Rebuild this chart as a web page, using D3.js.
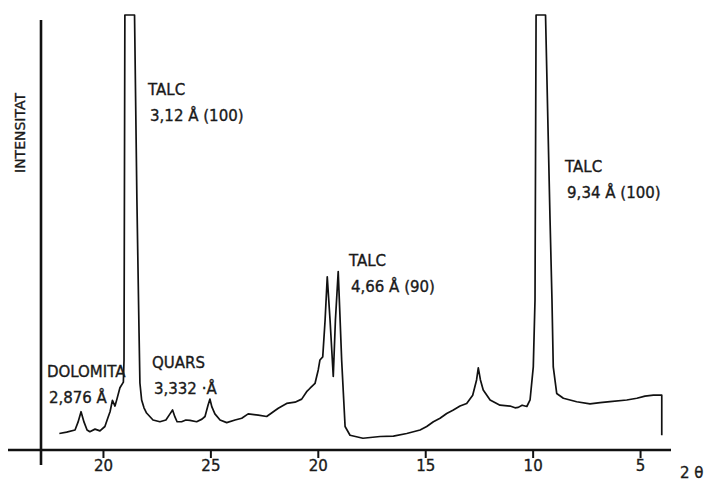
<!DOCTYPE html>
<html>
<head>
<meta charset="utf-8">
<script src="https://cdn.jsdelivr.net/npm/d3@7"></script>
<style>
  body { margin: 0; background: #fff; }
  svg { display: block; }
  text { font-family: "DejaVu Sans", sans-serif; fill: #1a1a1a; stroke: #1a1a1a; stroke-width: 0.35px; }
</style>
</head>
<body>
<div class="chart"></div>
<script>
// diffractogram trace: 2 theta (deg) and relative intensity (0-100, off-scale peaks clipped at 100)
var twoTheta = [32.03, 31.69, 31.30, 31.16, 31.02, 30.88, 30.74, 30.61, 30.37, 30.14,
	29.91, 29.77, 29.67, 29.56, 29.44, 29.35, 29.21, 29.05, 29.02, 28.98,
	28.53, 28.42, 28.32, 28.28, 28.20, 28.09, 27.97, 27.67, 27.35, 27.07,
	26.88, 26.76, 26.65, 26.55, 26.34, 26.14, 25.95, 25.64, 25.39, 25.25,
	25.11, 25.02, 24.93, 24.79, 24.55, 24.24, 23.85, 23.54, 23.24, 22.77,
	22.38, 22.07, 21.84, 21.45, 21.06, 20.75, 20.52, 20.36, 20.13, 19.98,
	19.90, 19.77, 19.66, 19.56, 19.43, 19.28, 19.18, 19.05, 18.97, 18.89,
	18.73, 18.50, 17.90, 17.10, 16.48, 15.86, 15.55, 15.24, 14.93, 14.62,
	14.31, 14.00, 13.69, 13.38, 13.07, 12.79, 12.61, 12.53, 12.43, 12.30,
	11.98, 11.52, 11.05, 10.82, 10.67, 10.49, 10.27, 10.12, 9.97, 9.89,
	9.84, 9.40, 9.19, 9.10, 9.04, 8.88, 8.57, 7.95, 7.33, 6.86,
	6.40, 5.62, 5.15, 4.77, 4.38, 3.99, 3.99];
var intensity = [3.8, 4.1, 4.6, 6.4, 8.8, 6.4, 4.6, 4.2, 4.8, 4.4,
	5.4, 7.4, 8.8, 11.4, 10.1, 11.7, 14.3, 15.6, 20.7, 100,
	100, 57.5, 26.9, 15.4, 11.5, 9.7, 8.5, 6.9, 6.5, 6.9,
	8.3, 9.2, 7.6, 6.5, 6.5, 6.9, 6.8, 6.5, 7.1, 7.7,
	10.3, 11.7, 9.9, 8.3, 6.9, 6.3, 6.9, 7.3, 8.3, 8.0,
	7.7, 8.8, 9.6, 10.7, 11.0, 11.7, 13.4, 14.2, 15.3, 18.4,
	20.7, 21.4, 29.9, 39.8, 29.9, 16.9, 29.9, 41.0, 31.0, 20.7,
	5.4, 3.4, 2.7, 3.1, 3.2, 3.8, 4.2, 4.6, 5.4, 6.5,
	7.3, 8.4, 9.2, 10.1, 10.7, 12.6, 16.1, 18.9, 16.1, 13.8,
	11.5, 10.3, 10.1, 9.7, 9.8, 10.3, 10.0, 11.5, 19.1, 34.5,
	100, 100, 52.9, 34.5, 19.1, 13.0, 11.9, 11.1, 10.6, 10.9,
	11.1, 11.5, 11.9, 12.4, 12.6, 12.6, 3.4];

var tickValues = [30, 25, 20, 15, 10, 5];
var tickLabels = ["20", "25", "20", "15", "10", "5"];

// peak labels, anchored at (2 theta, intensity)
var peakTitles = ["TALC", "TALC", "TALC", "DOLOMITA", "QUARS"];
var peakSpacings = ["3,12 Å (100)", "9,34 Å (100)", "4,66 Å (90)", "2,876 Å", "3,332 ·Å"];
var peakTheta = [27.90, 8.49, 18.55, 32.61, 27.72];
var peakLevel = [81.6, 63.9, 42.3, 16.8, 18.9];

var width = 707, height = 484;

var svg = d3.select(".chart").append("svg")
	.attr("width", width)
	.attr("height", height);

var x = d3.scaleLinear().domain([34.42, 3.56]).range([8, 671]);
var y = d3.scaleLinear().domain([0, 100]).range([450, 15]);

// axes
svg.append("line")
	.attr("x1", x.range()[0]).attr("x2", x.range()[1])
	.attr("y1", y(0)).attr("y2", y(0))
	.attr("stroke", "#111").attr("stroke-width", 2.6);

svg.append("line")
	.attr("x1", 41).attr("x2", 41)
	.attr("y1", 20).attr("y2", 465)
	.attr("stroke", "#111").attr("stroke-width", 2.6);

var xAxis = d3.axisBottom(x)
	.tickValues(tickValues)
	.tickFormat(function (d, i) { return tickLabels[i]; })
	.tickSize(8)
	.tickPadding(2);

var gx = svg.append("g")
	.attr("transform", "translate(0," + y(0) + ")")
	.call(xAxis);
gx.select(".domain").remove();
gx.selectAll(".tick line").attr("stroke", "#111").attr("stroke-width", 2);
gx.selectAll(".tick text")
	.attr("font-family", "DejaVu Sans")
	.attr("font-size", 15)
	.attr("fill", "#1a1a1a");

svg.append("text")
	.attr("x", 680).attr("y", 478)
	.attr("font-size", 15)
	.text("2 θ");

svg.append("text")
	.attr("transform", "translate(25,133) rotate(-90)")
	.attr("text-anchor", "middle")
	.attr("font-size", 14)
	.text("INTENSITAT");

// trace
var points = twoTheta.map(function (t, i) { return [t, intensity[i]]; });
var line = d3.line()
	.x(function (d) { return x(d[0]); })
	.y(function (d) { return y(d[1]); });

svg.append("path")
	.datum(points)
	.attr("d", line)
	.attr("fill", "none")
	.attr("stroke", "#111")
	.attr("stroke-width", 1.7)
	.attr("stroke-linejoin", "round");

// labels
var labels = svg.selectAll(".peak-label")
	.data(peakTitles)
	.enter()
	.append("text")
	.attr("class", "peak-label")
	.attr("font-size", 15);

labels.append("tspan")
	.attr("x", function (d, i) { return x(peakTheta[i]); })
	.attr("y", function (d, i) { return y(peakLevel[i]); })
	.text(function (d) { return d; });

labels.append("tspan")
	.attr("x", function (d, i) { return x(peakTheta[i]) + 2; })
	.attr("dy", 26)
	.text(function (d, i) { return peakSpacings[i]; });
</script>
</body>
</html>
